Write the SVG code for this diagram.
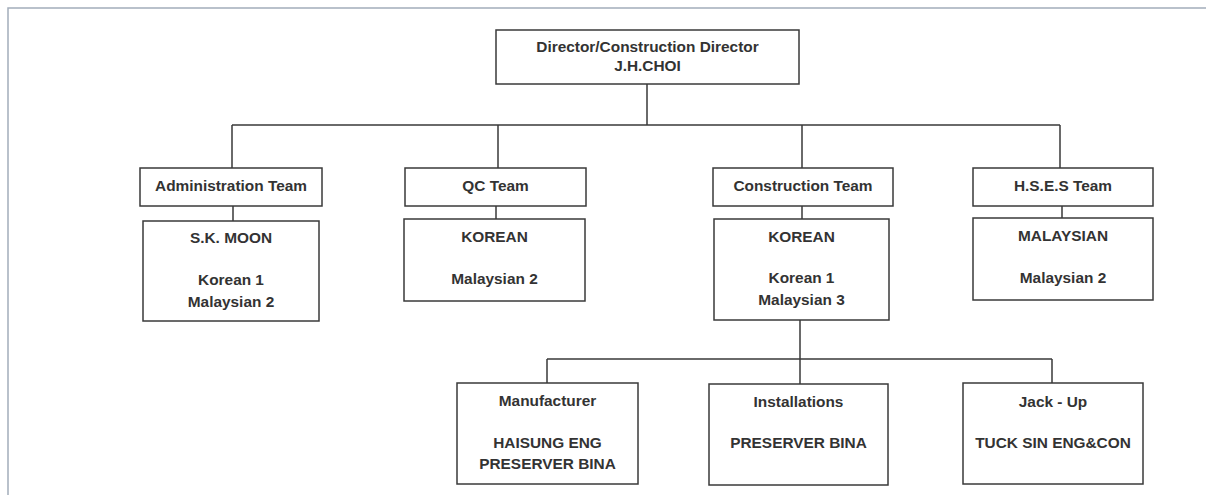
<svg xmlns="http://www.w3.org/2000/svg" width="1206" height="495" viewBox="0 0 1206 495">
<style>
.box{fill:#fff;stroke:#3a3a3a;stroke-width:1.5}
.t{font-family:"Liberation Sans",Arial,sans-serif;font-weight:bold;font-size:15.4px;fill:#333;text-anchor:middle}
.c{stroke:#3a3a3a;stroke-width:1.5;fill:none}
.frame{stroke:#a3adbb;stroke-width:1.5;fill:none}
</style>
<rect width="1206" height="495" fill="#fff"/>
<path class="frame" d="M8,495 V8 H1206"/>
<g id="connectors">
<path class="c" d="M647,84 V125 M232,125 H1060 M232,125 V168 M498,125 V168 M802,125 V168 M1060,125 V168"/>
<path class="c" d="M233,206 V221 M496,206 V219 M802,206 V219 M1062,206 V218"/>
<path class="c" d="M800,320 V359 M547,359 H1052 M547,359 V383 M800,359 V384 M1052,359 V383"/>
</g>
<g id="director">
<rect class="box" x="496" y="30" width="303" height="54"/>
<text class="t" x="647.5" y="52">Director/Construction Director</text>
<text class="t" x="647.5" y="71">J.H.CHOI</text>
</g>
<g id="admin-team">
<rect class="box" x="140" y="168" width="182" height="38"/>
<text class="t" x="231" y="191">Administration Team</text>
</g>
<g id="admin-staff">
<rect class="box" x="143" y="221" width="176" height="100"/>
<text class="t" x="231" y="243">S.K. MOON</text>
<text class="t" x="231" y="285">Korean 1</text>
<text class="t" x="231" y="307">Malaysian 2</text>
</g>
<g id="qc-team">
<rect class="box" x="405" y="168" width="181" height="38"/>
<text class="t" x="495.5" y="191">QC Team</text>
</g>
<g id="qc-staff">
<rect class="box" x="404" y="219" width="181" height="82"/>
<text class="t" x="494.5" y="242">KOREAN</text>
<text class="t" x="494.5" y="284">Malaysian 2</text>
</g>
<g id="construction-team">
<rect class="box" x="713" y="168" width="180" height="38"/>
<text class="t" x="803" y="191">Construction Team</text>
</g>
<g id="construction-staff">
<rect class="box" x="714" y="219" width="175" height="101"/>
<text class="t" x="801.5" y="242">KOREAN</text>
<text class="t" x="801.5" y="283">Korean 1</text>
<text class="t" x="801.5" y="305">Malaysian 3</text>
</g>
<g id="hses-team">
<rect class="box" x="973" y="168" width="180" height="38"/>
<text class="t" x="1063" y="191">H.S.E.S Team</text>
</g>
<g id="hses-staff">
<rect class="box" x="973" y="218" width="180" height="82"/>
<text class="t" x="1063" y="241">MALAYSIAN</text>
<text class="t" x="1063" y="283">Malaysian 2</text>
</g>
<g id="manufacturer">
<rect class="box" x="457" y="383" width="181" height="101"/>
<text class="t" x="547.5" y="406">Manufacturer</text>
<text class="t" x="547.5" y="448">HAISUNG ENG</text>
<text class="t" x="547.5" y="469">PRESERVER BINA</text>
</g>
<g id="installations">
<rect class="box" x="709" y="384" width="179" height="101"/>
<text class="t" x="798.5" y="407">Installations</text>
<text class="t" x="798.5" y="448">PRESERVER BINA</text>
</g>
<g id="jack-up">
<rect class="box" x="963" y="383" width="180" height="101"/>
<text class="t" x="1053" y="407">Jack - Up</text>
<text class="t" x="1053" y="448">TUCK SIN ENG&amp;CON</text>
</g>
</svg>
